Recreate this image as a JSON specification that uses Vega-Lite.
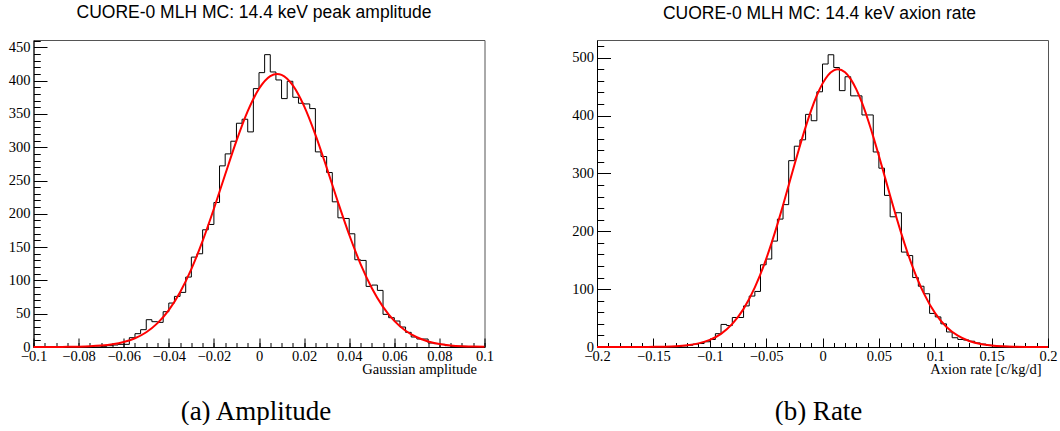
{
  "$schema": "https://vega.github.io/schema/vega-lite/v6.json",
  "background": "white",
  "padding": {"left": 7.5, "top": 3, "right": 0, "bottom": 0},
  "bounds": "flush",
  "spacing": 112.5,
  "config": {
    "view": {"stroke": "#555", "strokeWidth": 1},
    "axis": {"grid": false, "labelFont": "Liberation Serif", "labelFontSize": 14.5, "labelColor": "#000", "titleFont": "Liberation Serif", "titleFontWeight": "normal", "titleColor": "#000", "tickColor": "#000", "tickWidth": 1, "domainColor": "#000", "labelOverlap": false, "labelFlush": false}
  },
  "datasets": {
    "histA": [
      {"x": -0.1, "n": 0}, {"x": -0.0975, "n": 0}, {"x": -0.095, "n": 0}, {"x": -0.0925, "n": 0},
      {"x": -0.09, "n": 0}, {"x": -0.0875, "n": 0}, {"x": -0.085, "n": 0}, {"x": -0.0825, "n": 0},
      {"x": -0.08, "n": 0}, {"x": -0.0775, "n": 0}, {"x": -0.075, "n": 0}, {"x": -0.0725, "n": 0},
      {"x": -0.07, "n": 1}, {"x": -0.0675, "n": 2}, {"x": -0.065, "n": 3}, {"x": -0.0625, "n": 4},
      {"x": -0.06, "n": 4}, {"x": -0.0575, "n": 14}, {"x": -0.055, "n": 20}, {"x": -0.0525, "n": 26},
      {"x": -0.05, "n": 41}, {"x": -0.0475, "n": 38}, {"x": -0.045, "n": 37}, {"x": -0.0425, "n": 53},
      {"x": -0.04, "n": 66}, {"x": -0.0375, "n": 76}, {"x": -0.035, "n": 82}, {"x": -0.0325, "n": 105},
      {"x": -0.03, "n": 135}, {"x": -0.0275, "n": 140}, {"x": -0.025, "n": 176}, {"x": -0.0225, "n": 184},
      {"x": -0.02, "n": 217}, {"x": -0.0175, "n": 272}, {"x": -0.015, "n": 290}, {"x": -0.0125, "n": 309},
      {"x": -0.01, "n": 336}, {"x": -0.0075, "n": 342}, {"x": -0.005, "n": 323}, {"x": -0.0025, "n": 388},
      {"x": 0, "n": 412}, {"x": 0.0025, "n": 439}, {"x": 0.005, "n": 413}, {"x": 0.0075, "n": 401},
      {"x": 0.01, "n": 373}, {"x": 0.0125, "n": 399}, {"x": 0.015, "n": 375}, {"x": 0.0175, "n": 366},
      {"x": 0.02, "n": 365}, {"x": 0.0225, "n": 358}, {"x": 0.025, "n": 293}, {"x": 0.0275, "n": 286},
      {"x": 0.03, "n": 262}, {"x": 0.0325, "n": 218}, {"x": 0.035, "n": 194}, {"x": 0.0375, "n": 193},
      {"x": 0.04, "n": 170}, {"x": 0.0425, "n": 131}, {"x": 0.045, "n": 130}, {"x": 0.0475, "n": 91},
      {"x": 0.05, "n": 93}, {"x": 0.0525, "n": 85}, {"x": 0.055, "n": 49}, {"x": 0.0575, "n": 44},
      {"x": 0.06, "n": 39}, {"x": 0.0625, "n": 30}, {"x": 0.065, "n": 22}, {"x": 0.0675, "n": 15},
      {"x": 0.07, "n": 12}, {"x": 0.0725, "n": 12}, {"x": 0.075, "n": 6}, {"x": 0.0775, "n": 5},
      {"x": 0.08, "n": 4}, {"x": 0.0825, "n": 2}, {"x": 0.085, "n": 1}, {"x": 0.0875, "n": 1},
      {"x": 0.09, "n": 1}, {"x": 0.0925, "n": 0}, {"x": 0.095, "n": 0}, {"x": 0.0975, "n": 0},
      {"x": 0.1, "n": 0}
    ],
    "fitA": [
      {"x": -0.1, "y": 0.016}, {"x": -0.095, "y": 0.041}, {"x": -0.09, "y": 0.098}, {"x": -0.085, "y": 0.225},
      {"x": -0.08, "y": 0.494}, {"x": -0.075, "y": 1.04}, {"x": -0.07, "y": 2.09}, {"x": -0.065, "y": 4.01},
      {"x": -0.06, "y": 7.4}, {"x": -0.055, "y": 13.08}, {"x": -0.05, "y": 22.11}, {"x": -0.045, "y": 35.81},
      {"x": -0.04, "y": 55.49}, {"x": -0.035, "y": 82.36}, {"x": -0.03, "y": 117.06}, {"x": -0.025, "y": 159.31},
      {"x": -0.02, "y": 207.6}, {"x": -0.015, "y": 259.0}, {"x": -0.01, "y": 309.5}, {"x": -0.005, "y": 354.1},
      {"x": 0, "y": 387.8}, {"x": 0.005, "y": 406.8}, {"x": 0.008, "y": 410}, {"x": 0.01, "y": 408.6},
      {"x": 0.015, "y": 392.9}, {"x": 0.02, "y": 361.8}, {"x": 0.025, "y": 319.0}, {"x": 0.03, "y": 269.4},
      {"x": 0.035, "y": 217.8}, {"x": 0.04, "y": 168.6}, {"x": 0.045, "y": 124.9}, {"x": 0.05, "y": 88.7},
      {"x": 0.055, "y": 60.3}, {"x": 0.06, "y": 39.2}, {"x": 0.065, "y": 24.4}, {"x": 0.07, "y": 14.6},
      {"x": 0.075, "y": 8.32}, {"x": 0.08, "y": 4.56}, {"x": 0.085, "y": 2.39}, {"x": 0.09, "y": 1.2},
      {"x": 0.095, "y": 0.575}, {"x": 0.1, "y": 0.264}
    ],
    "histB": [
      {"x": -0.2, "n": 0}, {"x": -0.195, "n": 0}, {"x": -0.19, "n": 0}, {"x": -0.185, "n": 0},
      {"x": -0.18, "n": 0}, {"x": -0.175, "n": 0}, {"x": -0.17, "n": 0}, {"x": -0.165, "n": 0},
      {"x": -0.16, "n": 0}, {"x": -0.155, "n": 0}, {"x": -0.15, "n": 0}, {"x": -0.145, "n": 0},
      {"x": -0.14, "n": 0}, {"x": -0.135, "n": 0}, {"x": -0.13, "n": 1}, {"x": -0.125, "n": 2},
      {"x": -0.12, "n": 3}, {"x": -0.115, "n": 5}, {"x": -0.11, "n": 6}, {"x": -0.105, "n": 9},
      {"x": -0.1, "n": 13}, {"x": -0.095, "n": 23}, {"x": -0.09, "n": 39}, {"x": -0.085, "n": 37},
      {"x": -0.08, "n": 51}, {"x": -0.075, "n": 51}, {"x": -0.07, "n": 71}, {"x": -0.065, "n": 88},
      {"x": -0.06, "n": 96}, {"x": -0.055, "n": 142}, {"x": -0.05, "n": 152}, {"x": -0.045, "n": 183},
      {"x": -0.04, "n": 221}, {"x": -0.035, "n": 246}, {"x": -0.03, "n": 322}, {"x": -0.025, "n": 347},
      {"x": -0.02, "n": 358}, {"x": -0.015, "n": 402}, {"x": -0.01, "n": 391}, {"x": -0.005, "n": 441},
      {"x": 0, "n": 489}, {"x": 0.005, "n": 505}, {"x": 0.01, "n": 483}, {"x": 0.015, "n": 443},
      {"x": 0.02, "n": 467}, {"x": 0.025, "n": 434}, {"x": 0.03, "n": 434}, {"x": 0.035, "n": 401},
      {"x": 0.04, "n": 401}, {"x": 0.045, "n": 337}, {"x": 0.05, "n": 309}, {"x": 0.055, "n": 262},
      {"x": 0.06, "n": 225}, {"x": 0.065, "n": 232}, {"x": 0.07, "n": 164}, {"x": 0.075, "n": 158},
      {"x": 0.08, "n": 120}, {"x": 0.085, "n": 105}, {"x": 0.09, "n": 92}, {"x": 0.095, "n": 58},
      {"x": 0.1, "n": 52}, {"x": 0.105, "n": 40}, {"x": 0.11, "n": 26}, {"x": 0.115, "n": 16},
      {"x": 0.12, "n": 13}, {"x": 0.125, "n": 12}, {"x": 0.13, "n": 10}, {"x": 0.135, "n": 7},
      {"x": 0.14, "n": 5}, {"x": 0.145, "n": 3}, {"x": 0.15, "n": 2}, {"x": 0.155, "n": 1},
      {"x": 0.16, "n": 1}, {"x": 0.165, "n": 0}, {"x": 0.17, "n": 0}, {"x": 0.175, "n": 0},
      {"x": 0.18, "n": 0}, {"x": 0.185, "n": 0}, {"x": 0.19, "n": 0}, {"x": 0.195, "n": 0},
      {"x": 0.2, "n": 0}
    ],
    "fitB": [
      {"x": -0.2, "y": 0.001}, {"x": -0.19, "y": 0.004}, {"x": -0.18, "y": 0.011}, {"x": -0.17, "y": 0.034},
      {"x": -0.16, "y": 0.093}, {"x": -0.15, "y": 0.241}, {"x": -0.14, "y": 0.592}, {"x": -0.13, "y": 1.38},
      {"x": -0.12, "y": 3.02}, {"x": -0.11, "y": 6.28}, {"x": -0.1, "y": 12.3}, {"x": -0.09, "y": 22.78},
      {"x": -0.08, "y": 39.85}, {"x": -0.07, "y": 65.87}, {"x": -0.06, "y": 102.9}, {"x": -0.05, "y": 151.96},
      {"x": -0.045, "y": 180.8}, {"x": -0.04, "y": 211.96}, {"x": -0.035, "y": 245.1}, {"x": -0.03, "y": 279.4},
      {"x": -0.025, "y": 314.0}, {"x": -0.02, "y": 347.9}, {"x": -0.015, "y": 380.0}, {"x": -0.01, "y": 409.4},
      {"x": -0.005, "y": 434.7}, {"x": 0, "y": 455.1}, {"x": 0.005, "y": 469.8}, {"x": 0.01, "y": 478.1},
      {"x": 0.0137, "y": 480}, {"x": 0.02, "y": 474.6}, {"x": 0.025, "y": 462.9}, {"x": 0.03, "y": 445.2},
      {"x": 0.035, "y": 422.1}, {"x": 0.04, "y": 394.5}, {"x": 0.045, "y": 363.6}, {"x": 0.05, "y": 330.4},
      {"x": 0.055, "y": 296.0}, {"x": 0.06, "y": 261.4}, {"x": 0.065, "y": 227.7}, {"x": 0.07, "y": 195.5},
      {"x": 0.075, "y": 165.5}, {"x": 0.08, "y": 138.1}, {"x": 0.085, "y": 113.6}, {"x": 0.09, "y": 92.2},
      {"x": 0.1, "y": 58.1}, {"x": 0.11, "y": 34.6}, {"x": 0.12, "y": 19.5}, {"x": 0.13, "y": 10.38},
      {"x": 0.14, "y": 5.22}, {"x": 0.15, "y": 2.48}, {"x": 0.16, "y": 1.11}, {"x": 0.17, "y": 0.472},
      {"x": 0.18, "y": 0.189}, {"x": 0.19, "y": 0.072}, {"x": 0.2, "y": 0.026}
    ]
  },
  "hconcat": [
    {
      "width": 451,
      "height": 307,
      "title": {"text": "CUORE-0 MLH MC: 14.4 keV peak amplitude", "font": "Liberation Sans", "fontSize": 17.5, "fontWeight": "normal", "color": "#000", "anchor": "middle", "frame": "group", "offset": 3.5, "baseline": "alphabetic", "dx": -5},
      "resolve": {"axis": {"x": "independent", "y": "independent"}},
      "layer": [
        {
          "data": {"name": "histA"},
          "mark": {"type": "line", "interpolate": "step-after", "color": "#000", "strokeWidth": 1},
          "encoding": {
            "x": {"field": "x", "type": "quantitative", "scale": {"domain": [-0.1, 0.1], "nice": false, "zero": false},
              "axis": {"orient": "bottom", "values": [-0.1, -0.08, -0.06, -0.04, -0.02, 0, 0.02, 0.04, 0.06, 0.08, 0.1], "format": "~g", "ticks": false, "domain": true, "labelPadding": 2.5,
                "title": "Gaussian amplitude", "titleFontSize": 14.5, "titleX": 443, "titleY": 26, "titleAlign": "right", "titleBaseline": "alphabetic"}},
            "y": {"field": "n", "type": "quantitative", "scale": {"domain": [0, 461], "nice": false, "zero": true},
              "axis": {"orient": "left", "values": [0, 50, 100, 150, 200, 250, 300, 350, 400, 450], "format": "d", "ticks": false, "domain": true, "labelPadding": 3.5, "title": null}}
          }
        },
        {
          "data": {"name": "fitA"},
          "mark": {"type": "line", "interpolate": "monotone", "color": "#ff0000", "strokeWidth": 2},
          "encoding": {
            "x": {"field": "x", "type": "quantitative", "scale": {"domain": [-0.1, 0.1], "nice": false, "zero": false},
              "axis": {"orient": "bottom", "values": [-0.1, -0.08, -0.06, -0.04, -0.02, 0, 0.02, 0.04, 0.06, 0.08, 0.1], "labels": false, "domain": false, "ticks": true, "tickSize": 9, "offset": -9, "title": null}},
            "y": {"field": "y", "type": "quantitative", "scale": {"domain": [0, 461], "nice": false, "zero": true},
              "axis": {"orient": "left", "values": [0, 50, 100, 150, 200, 250, 300, 350, 400, 450], "labels": false, "domain": false, "ticks": true, "tickSize": 13.5, "offset": -13.5, "title": null}}
          }
        },
        {
          "data": {"name": "histA"},
          "mark": {"type": "point", "opacity": 0},
          "encoding": {
            "x": {"field": "x", "type": "quantitative", "scale": {"domain": [-0.1, 0.1], "nice": false, "zero": false},
              "axis": {"orient": "bottom", "values": [-0.1, -0.095, -0.09, -0.085, -0.08, -0.075, -0.07, -0.065, -0.06, -0.055, -0.05, -0.045, -0.04, -0.035, -0.03, -0.025, -0.02, -0.015, -0.01, -0.005, 0, 0.005, 0.01, 0.015, 0.02, 0.025, 0.03, 0.035, 0.04, 0.045, 0.05, 0.055, 0.06, 0.065, 0.07, 0.075, 0.08, 0.085, 0.09, 0.095, 0.1], "labels": false, "domain": false, "ticks": true, "tickSize": 4.5, "offset": -4.5, "title": null}},
            "y": {"field": "n", "type": "quantitative", "scale": {"domain": [0, 461], "nice": false, "zero": true},
              "axis": {"orient": "left", "values": [0, 10, 20, 30, 40, 50, 60, 70, 80, 90, 100, 110, 120, 130, 140, 150, 160, 170, 180, 190, 200, 210, 220, 230, 240, 250, 260, 270, 280, 290, 300, 310, 320, 330, 340, 350, 360, 370, 380, 390, 400, 410, 420, 430, 440, 450, 460], "labels": false, "domain": false, "ticks": true, "tickSize": 6.75, "offset": -6.75, "title": null}}
          }
        },
        {
          "data": {"name": "histA"},
          "mark": {"type": "point", "opacity": 0},
          "encoding": {
            "x": {"field": "x", "type": "quantitative", "scale": {"domain": [-0.1, 0.1], "nice": false, "zero": false},
              "axis": {"orient": "bottom", "labels": false, "domain": false, "ticks": false, "title": "(a) Amplitude", "titleFontSize": 27, "titleX": 222, "titleY": 72, "titleAlign": "center", "titleBaseline": "alphabetic"}},
            "y": {"field": "n", "type": "quantitative", "scale": {"domain": [0, 461], "nice": false, "zero": true}, "axis": null}
          }
        }
      ]
    },
    {
      "width": 451,
      "height": 307,
      "title": {"text": "CUORE-0 MLH MC: 14.4 keV axion rate", "font": "Liberation Sans", "fontSize": 17.5, "fontWeight": "normal", "color": "#000", "anchor": "middle", "frame": "group", "offset": 3.5, "baseline": "alphabetic", "dx": -3},
      "resolve": {"axis": {"x": "independent", "y": "independent"}},
      "layer": [
        {
          "data": {"name": "histB"},
          "mark": {"type": "line", "interpolate": "step-after", "color": "#000", "strokeWidth": 1},
          "encoding": {
            "x": {"field": "x", "type": "quantitative", "scale": {"domain": [-0.2, 0.2], "nice": false, "zero": false},
              "axis": {"orient": "bottom", "values": [-0.2, -0.15, -0.1, -0.05, 0, 0.05, 0.1, 0.15, 0.2], "format": "~g", "ticks": false, "domain": true, "labelPadding": 2.5,
                "title": "Axion rate [c/kg/d]", "titleFontSize": 14.5, "titleX": 444, "titleY": 26, "titleAlign": "right", "titleBaseline": "alphabetic"}},
            "y": {"field": "n", "type": "quantitative", "scale": {"domain": [0, 530.5], "nice": false, "zero": true},
              "axis": {"orient": "left", "values": [0, 100, 200, 300, 400, 500], "format": "d", "ticks": false, "domain": true, "labelPadding": 3.5, "title": null}}
          }
        },
        {
          "data": {"name": "fitB"},
          "mark": {"type": "line", "interpolate": "monotone", "color": "#ff0000", "strokeWidth": 2},
          "encoding": {
            "x": {"field": "x", "type": "quantitative", "scale": {"domain": [-0.2, 0.2], "nice": false, "zero": false},
              "axis": {"orient": "bottom", "values": [-0.2, -0.15, -0.1, -0.05, 0, 0.05, 0.1, 0.15, 0.2], "labels": false, "domain": false, "ticks": true, "tickSize": 9, "offset": -9, "title": null}},
            "y": {"field": "y", "type": "quantitative", "scale": {"domain": [0, 530.5], "nice": false, "zero": true},
              "axis": {"orient": "left", "values": [0, 100, 200, 300, 400, 500], "labels": false, "domain": false, "ticks": true, "tickSize": 13.5, "offset": -13.5, "title": null}}
          }
        },
        {
          "data": {"name": "histB"},
          "mark": {"type": "point", "opacity": 0},
          "encoding": {
            "x": {"field": "x", "type": "quantitative", "scale": {"domain": [-0.2, 0.2], "nice": false, "zero": false},
              "axis": {"orient": "bottom", "values": [-0.2, -0.19, -0.18, -0.17, -0.16, -0.15, -0.14, -0.13, -0.12, -0.11, -0.1, -0.09, -0.08, -0.07, -0.06, -0.05, -0.04, -0.03, -0.02, -0.01, 0, 0.01, 0.02, 0.03, 0.04, 0.05, 0.06, 0.07, 0.08, 0.09, 0.1, 0.11, 0.12, 0.13, 0.14, 0.15, 0.16, 0.17, 0.18, 0.19, 0.2], "labels": false, "domain": false, "ticks": true, "tickSize": 4.5, "offset": -4.5, "title": null}},
            "y": {"field": "n", "type": "quantitative", "scale": {"domain": [0, 530.5], "nice": false, "zero": true},
              "axis": {"orient": "left", "values": [0, 20, 40, 60, 80, 100, 120, 140, 160, 180, 200, 220, 240, 260, 280, 300, 320, 340, 360, 380, 400, 420, 440, 460, 480, 500, 520], "labels": false, "domain": false, "ticks": true, "tickSize": 6.75, "offset": -6.75, "title": null}}
          }
        },
        {
          "data": {"name": "histB"},
          "mark": {"type": "point", "opacity": 0},
          "encoding": {
            "x": {"field": "x", "type": "quantitative", "scale": {"domain": [-0.2, 0.2], "nice": false, "zero": false},
              "axis": {"orient": "bottom", "labels": false, "domain": false, "ticks": false, "title": "(b) Rate", "titleFontSize": 27, "titleX": 221, "titleY": 72, "titleAlign": "center", "titleBaseline": "alphabetic"}},
            "y": {"field": "n", "type": "quantitative", "scale": {"domain": [0, 530.5], "nice": false, "zero": true}, "axis": null}
          }
        }
      ]
    }
  ]
}
